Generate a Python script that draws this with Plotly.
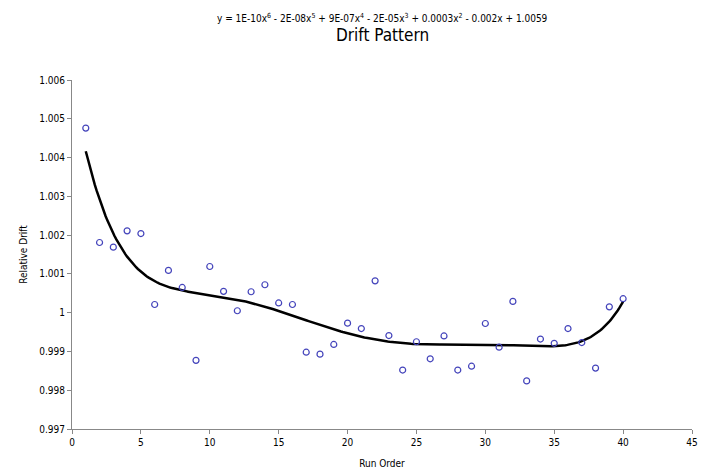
import numpy as np
import plotly.graph_objects as go

run_order = list(range(1, 41))
relative_drift = [
    1.00476, 1.00181, 1.00169, 1.00211, 1.00204, 1.00021, 1.00109, 1.00065,
    0.99877, 1.00119, 1.00055, 1.00005, 1.00054, 1.00072, 1.00025, 1.00021,
    0.99898, 0.99893, 0.99918, 0.99973, 0.99959, 1.00082, 0.99941, 0.99852,
    0.99925, 0.99881, 0.99940, 0.99852, 0.99862, 0.99972, 0.99911, 1.00029,
    0.99824, 0.99932, 0.99921, 0.99959, 0.99923, 0.99857, 1.00015, 1.00036,
]
x_ticks = [0, 5, 10, 15, 20, 25, 30, 35, 40, 45]
y_ticks = [0.997, 0.998, 0.999, 1.0, 1.001, 1.002, 1.003, 1.004, 1.005, 1.006]
y_tick_text = ["0.997", "0.998", "0.999", "1", "1.001", "1.002", "1.003", "1.004", "1.005", "1.006"]
equation = "y = 1E-10x<sup>6</sup> - 2E-08x<sup>5</sup> + 9E-07x<sup>4</sup> - 2E-05x<sup>3</sup> + 0.0003x<sup>2</sup> - 0.002x + 1.0059"

# 6th-order polynomial trendline fitted to the data
coef = np.polyfit(run_order, relative_drift, 6)
xs = np.linspace(min(run_order), max(run_order), 300)
ys = np.polyval(coef, xs)

font_family = "DejaVu Sans Condensed, DejaVu Sans, Arial, sans-serif"

fig = go.Figure()
fig.add_trace(go.Scatter(
    x=xs, y=ys, mode="lines",
    line=dict(color="black", width=2.5),
    hoverinfo="skip", showlegend=False,
))
fig.add_trace(go.Scatter(
    x=run_order, y=relative_drift, mode="markers",
    marker=dict(symbol="circle-open", size=6, color="#4444bb", line=dict(width=1.2, color="#4444bb")),
    showlegend=False,
))

fig.update_layout(
    width=703, height=461,
    margin=dict(l=64, r=19, t=72, b=40),
    paper_bgcolor="white", plot_bgcolor="white",
    font=dict(family=font_family, size=10, color="black"),
    annotations=[
        dict(text=equation, x=0.5, y=1, xref="paper", yref="paper",
             xanchor="center", yanchor="middle", yshift=62, showarrow=False,
             font=dict(size=10, family=font_family)),
        dict(text="Drift Pattern", x=0.5, y=1, xref="paper", yref="paper",
             xanchor="center", yanchor="middle", yshift=45, showarrow=False,
             font=dict(size=17, family=font_family)),
    ],
)
fig.update_xaxes(
    range=[0, 45], tickvals=x_ticks, showgrid=False, zeroline=False,
    automargin=False,
    showline=True, linecolor="#888888", linewidth=1,
    ticks="outside", ticklen=4, tickcolor="#888888",
    title=dict(text="Run Order", font=dict(size=10), standoff=16),
    tickfont=dict(size=10),
)
fig.update_yaxes(
    range=[0.997, 1.006], tickvals=y_ticks, ticktext=y_tick_text,
    showgrid=False, zeroline=False,
    automargin=False,
    showline=True, linecolor="#888888", linewidth=1,
    ticks="outside", ticklen=4, tickcolor="#888888",
    title=dict(text="Relative Drift", font=dict(size=10), standoff=9),
    tickfont=dict(size=10),
)

fig.write_html("out.html")
